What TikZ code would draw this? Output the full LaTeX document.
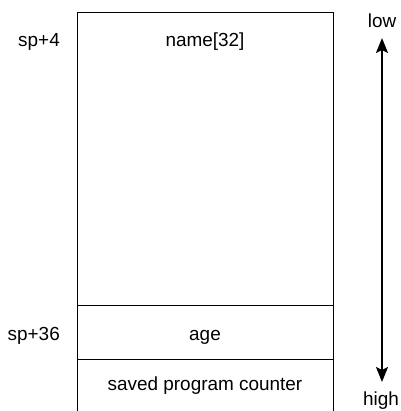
\documentclass[tikz,border=0pt]{standalone}
\usepackage{fontspec}
\setmainfont{Liberation Sans}
\usetikzlibrary{arrows.meta}
\begin{document}
\begin{tikzpicture}[x=1bp,y=-1bp,
  lbl/.style={font=\fontsize{19}{22}\selectfont,inner sep=0pt,anchor=base},
  rlbl/.style={lbl,anchor=base east},
  rule/.style={line width=1.1bp},
  dir/.style={line width=1.8bp,-{Stealth[length=15bp,width=12bp,inset=3bp]}}]
\useasboundingbox (0,0) rectangle (401,411);
\draw[rule] (77.5,413) -- (77.5,12.7) -- (333.3,12.7) -- (333.3,413);
\draw[rule] (77.5,305.5) -- (333.3,305.5);
\draw[rule] (77.5,359.5) -- (333.3,359.5);
\node[lbl] (name) at (205,46.7) {name[32]};
\node[rlbl] (sp4) at (60,46.7) {sp+4};
\node[lbl] (age) at (205,340) {age};
\node[rlbl] (sp36) at (60,340) {sp+36};
\node[lbl] (spc) at (205,390) {saved program counter};
\node[lbl] (low) at (382,27) {low};
\node[lbl] (high) at (381,405.5) {high};
\coordinate (mid) at (382,210);
\coordinate (top) at (382,38);
\coordinate (bot) at (382,382);
\draw[dir] (mid) -- (top);
\draw[dir] (mid) -- (bot);
\end{tikzpicture}
\end{document}
